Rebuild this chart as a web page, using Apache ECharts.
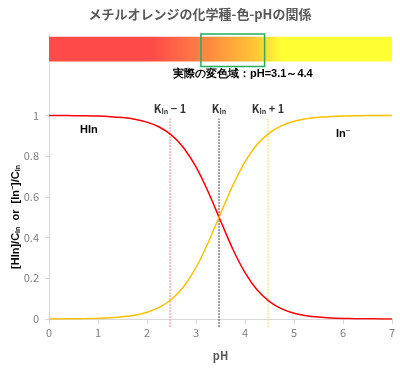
<!DOCTYPE html>
<html><head><meta charset="utf-8">
<script src="https://cdn.jsdelivr.net/npm/echarts@6/dist/echarts.min.js"></script>
<style>html,body{margin:0;padding:0;background:#fff}#c{width:400px;height:375px}</style>
</head><body><div id="c"></div>
<script>
const pH  = [0,0.25,0.5,0.75,1,1.25,1.5,1.75,2,2.25,2.5,2.75,3,3.25,3.5,3.75,4,4.25,4.5,4.75,5,5.25,5.5,5.75,6,6.25,6.5,6.75,7];
const HIn = [0.9997,0.9994,0.9989,0.9981,0.9966,0.9940,0.9894,0.9813,0.967,0.943,0.903,0.840,0.747,0.624,0.483,0.344,0.228,0.142,0.0855,0.0499,0.0287,0.0163,0.0093,0.0052,0.0029,0.0017,0.0009,0.0005,0.0003];
const InM = [0.0003,0.0006,0.0011,0.0019,0.0034,0.0060,0.0106,0.0187,0.033,0.057,0.097,0.160,0.253,0.376,0.517,0.656,0.772,0.858,0.9145,0.9501,0.9713,0.9837,0.9907,0.9948,0.9971,0.9983,0.9991,0.9995,0.9997];
const refX = [2.47, 3.47, 4.47];
const refLabels = ['{k|K}{s|In}{k| − 1}', '{k|K}{s|In}', '{k|K}{s|In}{k| + 1}'];
const refColors = ['#ff7c80', '#404040', '#ffd966'];
const yTicks = [0, 0.2, 0.4, 0.6, 0.8, 1];
const rangeLow = 3.1, rangeHigh = 4.4;
const rangeText = '実際の変色域：pH=3.1～4.4';

const rich = {k:{fontSize:11,fontWeight:'bold',color:'#000'}, s:{fontSize:7,fontWeight:'bold',color:'#000',padding:[5,0,0,0]}};

const chart = echarts.init(document.getElementById('c'));
const refSeries = refX.map((x,i)=>({
  type:'line', data:[[x,-0.04],[x,0.985]], symbol:'none', clip:false, silent:true, z:1,
  lineStyle:{color:refColors[i],width:1,type:[2,1]}
}));
const refLabelSeries = {
  type:'scatter', silent:true, z:6, symbolSize:1, itemStyle:{color:'rgba(0,0,0,0)'},
  data: refX.map((x,i)=>({value:[x,0.985],label:{show:true,position:'top',distance:3,formatter:refLabels[i],rich:rich}}))
};
chart.setOption({
  animation:false,
  title:{text:'メチルオレンジの化学種-色-pHの関係',left:'center',top:3,textStyle:{fontSize:13,fontWeight:'bold',color:'#595959',fontFamily:'Noto Sans CJK JP'}},
  grid:{left:49,right:8,top:34,bottom:56},
  textStyle:{fontFamily:'Noto Sans CJK JP'},
  xAxis:{type:'value',min:0,max:7,interval:1,
    axisLine:{lineStyle:{color:'#d9d9d9'}},axisTick:{show:true,length:5,lineStyle:{color:'#d9d9d9'}},
    splitLine:{show:false},axisLabel:{color:'#7f7f7f',fontSize:11,margin:8},
    name:'pH',nameLocation:'middle',nameGap:31,nameTextStyle:{fontWeight:'bold',color:'#595959',fontSize:11}},
  yAxis:{type:'value',min:0,max:1.4,interval:0.2,
    axisLine:{show:true,lineStyle:{color:'#d9d9d9'}},
    axisTick:{show:true,length:4,customValues:yTicks,lineStyle:{color:'#d9d9d9'}},
    axisLabel:{customValues:yTicks,color:'#7f7f7f',fontSize:11,margin:10},
    splitLine:{show:false}},
  graphic:[
    {type:'text',x:16,y:217,rotation:Math.PI/2,style:{text:'{b|[HIn]/C}{s|In}{b|  or  [In}{p|−}{b|]/C}{s|In}',textAlign:'center',textVerticalAlign:'middle',
      rich:{b:{fontSize:11,fontWeight:'bold',color:'#404040'},s:{fontSize:7,fontWeight:'bold',color:'#404040',padding:[5,0,0,0]},p:{fontSize:7,fontWeight:'bold',color:'#404040',padding:[0,0,6,0]}}}},
    {type:'text',left:80,top:124,style:{text:'HIn',fontSize:11,fontWeight:'bold',fill:'#000'}},
    {type:'text',left:336,top:127,style:{text:'{b|In}{p|−}',rich:{b:{fontSize:11,fontWeight:'bold',color:'#000'},p:{fontSize:8,color:'#555',padding:[0,0,6,0]}}}},
    {type:'text',left:173,top:68,style:{text:rangeText,fontSize:11,fontWeight:'bold',fill:'#000'}}
  ],
  series:[
    {type:'line',data:[],markArea:{silent:true,data:[[{coord:[0,1.387],itemStyle:{color:new echarts.graphic.LinearGradient(0,0,1,0,[
      {offset:0,color:'#ff4a4a'},{offset:0.3,color:'#ff4a4a'},{offset:0.44,color:'#ff7e42'},{offset:0.52,color:'#ffa23a'},{offset:0.6,color:'#ffc535'},{offset:0.68,color:'#ffff33'},{offset:1,color:'#ffff33'}])}},{coord:[7,1.265]}]]}},
    {type:'line',data:[],z:5,markArea:{silent:true,itemStyle:{color:'rgba(0,0,0,0)',borderColor:'#22b05a',borderWidth:1.5},data:[[{coord:[rangeLow,1.415]},{coord:[rangeHigh,1.24]}]]}},
    ...refSeries,
    refLabelSeries,
    {type:'line',name:'HIn',data:pH.map((x,i)=>[x,HIn[i]]),smooth:0.3,symbol:'none',z:3,lineStyle:{color:'#ff0000',width:1.5}},
    {type:'line',name:'In-',data:pH.map((x,i)=>[x,InM[i]]),smooth:0.3,symbol:'none',z:3,lineStyle:{color:'#ffc000',width:1.5}}
  ]
});
</script></body></html>
